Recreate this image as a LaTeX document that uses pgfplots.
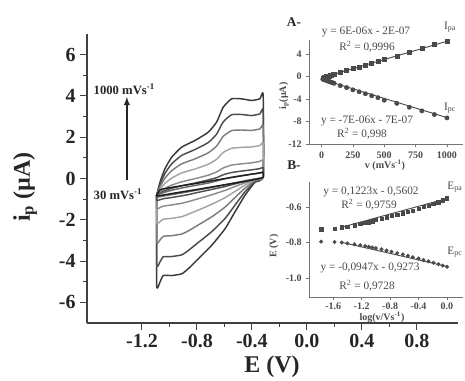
\documentclass[border=0pt]{standalone}
\usepackage{pgfplots}
\pgfplotsset{compat=1.18}
\usepackage{fontspec}
\setmainfont{Liberation Serif}

\definecolor{cvA}{HTML}{3A3A3A}
\definecolor{cvB}{HTML}{4C4C4C}
\definecolor{cvC}{HTML}{7C7C7C}
\definecolor{cvD}{HTML}{A4A4A4}
\definecolor{cvE}{HTML}{8C8C8C}
\definecolor{cvF}{HTML}{505050}
\definecolor{cvG}{HTML}{6A6A6A}
\definecolor{cvH}{HTML}{1E1E1E}
\definecolor{ink}{HTML}{262626}
\definecolor{inset}{HTML}{4A4A4A}

\pgfplotsset{
  insetax/.style={
    anchor=south west, scale only axis, clip=false,
    axis x line*=bottom, axis y line*=left,
    axis line style={line width=0.5pt, draw=black!55},
    tick style={line width=0.5pt, draw=black!55},
    tick align=outside, major tick length=2pt,
    ticklabel style={font=\fontsize{7.5}{8}\selectfont\bfseries, text=inset},
    scaled ticks=false,
  },
  cv/.style={line width=1.1pt, smooth, tension=0.3, line join=round},
}

\begin{document}
\begin{tikzpicture}
\path[use as bounding box] (0,0) rectangle (348.75pt,285pt);

% main cyclic voltammograms, 30 ... 1000 mV/s
\begin{axis}[
  at={(65.25pt,42.75pt)}, anchor=south west,
  scale only axis, width=278.25pt, height=216.75pt,
  xmin=-1.6, xmax=1.1, ymin=-7, ymax=7,
  axis x line*=bottom, axis y line*=left,
  axis line style={line width=0.8pt, draw=black!75},
  tick style={line width=0.8pt, draw=black!75},
  tick align=outside, major tick length=5pt, minor tick length=3pt,
  xtick={-1.2,-0.8,-0.4,0,0.4,0.8},
  xticklabels={-1.2,-0.8,-0.4,0.0,0.4,0.8},
  ytick={-6,-4,-2,0,2,4,6},
  yticklabels={-6,-4,-2,0,2,4,6},
  minor x tick num=1, minor y tick num=1,
  ticklabel style={font=\fontsize{15}{15}\selectfont\bfseries, text=ink},
  clip=false,
]
\addplot[cvA, cv] coordinates {
(-1.093,-0.82) (-1.069,-0.18) (-1.033,0.47) (-0.984,1.03) (-0.911,1.52) (-0.815,1.84) (-0.718,2.24)
(-0.657,2.73) (-0.609,3.45) (-0.548,3.86) (-0.475,3.86) (-0.402,3.78) (-0.342,3.86) (-0.318,4.05)
(-0.318,0.15) (-0.378,-0.18) (-0.451,-0.82) (-0.524,-1.63) (-0.596,-2.44) (-0.693,-3.24) (-0.790,-3.89)
(-0.863,-4.37) (-0.911,-4.62) (-0.984,-4.70) (-1.045,-4.70) (-1.069,-5.02) (-1.093,-5.18) (-1.093,-0.82)};
\addplot[cvB, cv] coordinates {
(-1.093,-0.82) (-1.069,-0.29) (-1.033,0.24) (-0.984,0.71) (-0.911,1.12) (-0.815,1.40) (-0.718,1.74)
(-0.657,2.15) (-0.609,2.74) (-0.548,3.09) (-0.475,3.10) (-0.402,3.05) (-0.342,3.13) (-0.318,3.29)
(-0.318,0.13) (-0.378,-0.14) (-0.451,-0.65) (-0.524,-1.30) (-0.596,-1.94) (-0.693,-2.58) (-0.790,-3.10)
(-0.863,-3.49) (-0.911,-3.70) (-0.984,-3.78) (-1.045,-3.79) (-1.069,-4.04) (-1.093,-4.17) (-1.093,-0.82)};
\addplot[cvC, cv] coordinates {
(-1.093,-0.81) (-1.069,-0.41) (-1.033,0.01) (-0.984,0.38) (-0.911,0.71) (-0.815,0.95) (-0.718,1.24)
(-0.657,1.57) (-0.609,2.04) (-0.548,2.32) (-0.475,2.35) (-0.402,2.33) (-0.342,2.40) (-0.318,2.53)
(-0.318,0.10) (-0.378,-0.10) (-0.451,-0.47) (-0.524,-0.93) (-0.596,-1.39) (-0.693,-1.86) (-0.790,-2.25)
(-0.863,-2.54) (-0.911,-2.69) (-0.984,-2.77) (-1.045,-2.80) (-1.069,-2.98) (-1.093,-3.08) (-1.093,-0.81)};
\addplot[cvD, cv] coordinates {
(-1.093,-0.81) (-1.069,-0.53) (-1.033,-0.24) (-0.984,0.02) (-0.911,0.27) (-0.815,0.46) (-0.718,0.69)
(-0.657,0.93) (-0.609,1.26) (-0.548,1.46) (-0.475,1.51) (-0.402,1.53) (-0.342,1.60) (-0.318,1.69)
(-0.318,0.08) (-0.378,-0.07) (-0.451,-0.32) (-0.524,-0.63) (-0.596,-0.93) (-0.693,-1.25) (-0.790,-1.53)
(-0.863,-1.73) (-0.911,-1.85) (-0.984,-1.93) (-1.045,-1.97) (-1.069,-2.09) (-1.093,-2.16) (-1.093,-0.81)};
\addplot[cvE, cv] coordinates {
(-1.093,-0.80) (-1.069,-0.65) (-1.033,-0.48) (-0.984,-0.32) (-0.911,-0.16) (-0.815,-0.01) (-0.718,0.16)
(-0.657,0.32) (-0.609,0.51) (-0.548,0.65) (-0.475,0.71) (-0.402,0.76) (-0.342,0.83) (-0.318,0.89)
(-0.318,0.07) (-0.378,-0.04) (-0.451,-0.21) (-0.524,-0.39) (-0.596,-0.58) (-0.693,-0.79) (-0.790,-0.98)
(-0.863,-1.12) (-0.911,-1.20) (-0.984,-1.28) (-1.045,-1.34) (-1.069,-1.41) (-1.093,-1.46) (-1.093,-0.80)};
\addplot[cvF, cv] coordinates {
(-1.093,-0.80) (-1.069,-0.70) (-1.033,-0.59) (-0.984,-0.48) (-0.911,-0.35) (-0.815,-0.22) (-0.718,-0.07)
(-0.657,0.04) (-0.609,0.18) (-0.548,0.29) (-0.475,0.36) (-0.402,0.42) (-0.342,0.48) (-0.318,0.53)
(-0.318,0.06) (-0.378,-0.03) (-0.451,-0.14) (-0.524,-0.26) (-0.596,-0.39) (-0.693,-0.53) (-0.790,-0.67)
(-0.863,-0.78) (-0.911,-0.84) (-0.984,-0.92) (-1.045,-0.98) (-1.069,-1.03) (-1.093,-1.06) (-1.093,-0.80)};
\addplot[cvG, cv] coordinates {
(-1.093,-0.80) (-1.069,-0.74) (-1.033,-0.66) (-0.984,-0.57) (-0.911,-0.46) (-0.815,-0.34) (-0.718,-0.22)
(-0.657,-0.12) (-0.609,-0.03) (-0.548,0.06) (-0.475,0.14) (-0.402,0.21) (-0.342,0.27) (-0.318,0.31)
(-0.318,0.05) (-0.378,-0.02) (-0.451,-0.11) (-0.524,-0.21) (-0.596,-0.31) (-0.693,-0.43) (-0.790,-0.55)
(-0.863,-0.64) (-0.911,-0.70) (-0.984,-0.78) (-1.045,-0.85) (-1.069,-0.88) (-1.093,-0.91) (-1.093,-0.80)};
\addplot[cvH, cv] coordinates {
(-1.093,-0.80) (-1.069,-0.55) (-1.033,-0.49) (-0.984,-0.43) (-0.911,-0.35) (-0.815,-0.25) (-0.718,-0.14)
(-0.657,-0.07) (-0.609,-0.02) (-0.548,0.05) (-0.475,0.13) (-0.402,0.21) (-0.342,0.27) (-0.318,0.30)
(-0.318,0.05) (-0.378,-0.05) (-0.451,-0.14) (-0.524,-0.22) (-0.596,-0.30) (-0.693,-0.41) (-0.790,-0.52)
(-0.863,-0.60) (-0.911,-0.65) (-0.984,-0.73) (-1.045,-0.80) (-1.069,-0.82) (-1.093,-0.85) (-1.093,-0.80)};

\draw[-latex, line width=1.1pt, ink] (axis cs:-1.31,-0.05) -- (axis cs:-1.31,3.95);
\end{axis}

% inset A: peak currents against scan rate
\begin{axis}[insetax,
  at={(231.75pt,177pt)}, width=115.5pt, height=78.3pt,
  xmin=-100, xmax=1128, ymin=-12, ymax=6.6,
  xtick={0,250,500,750,1000}, xticklabels={0,250,500,750,1000},
  ytick={-12,-8,-4,0,4}, yticklabels={-12,-8,-4,0,4},
]
\addplot[inset, line width=0.7pt] coordinates {(0,-0.2) (1000,6.3)};
\addplot[inset, line width=0.7pt] coordinates {(0,-0.45) (1000,-7.3)};
\addplot[only marks, mark=square*, mark size=1.5pt, inset] coordinates {
(10,-0.2) (20,-0.12) (30,-0.05) (40,0.02) (50,0.08) (60,0.15) (70,0.22) (80,0.28) (90,0.35) (100,0.42)
(150,0.78) (200,1.05) (250,1.42) (300,1.72) (350,2.05) (400,2.4) (450,2.72) (500,3.05)
(600,3.7) (700,4.35) (800,5.0) (900,5.7) (1000,6.35)};
\addplot[only marks, mark=*, mark size=1.6pt, inset] coordinates {
(10,-0.45) (20,-0.55) (30,-0.62) (40,-0.7) (50,-0.78) (60,-0.85) (70,-0.95) (80,-1.02) (90,-1.1) (100,-1.18)
(150,-1.6) (200,-1.95) (250,-2.35) (300,-2.7) (350,-3.05) (400,-3.4) (450,-3.75) (500,-4.2)
(600,-4.75) (700,-5.45) (800,-6.1) (900,-6.75) (1000,-7.35)};
\end{axis}

% inset B: peak potentials against log of scan rate
\begin{axis}[insetax,
  at={(231.75pt,62.25pt)}, width=115.5pt, height=86.25pt,
  xmin=-1.94, xmax=0.225, ymin=-1.107, ymax=-0.459,
  xtick={-1.6,-1.2,-0.8,-0.4,0}, xticklabels={-1.6,-1.2,-0.8,-0.4,0.0},
  ytick={-1.0,-0.8,-0.6}, yticklabels={-1.0,-0.8,-0.6},
  xticklabel style={yshift=1pt},
]
\addplot[inset, line width=0.7pt] coordinates {(-1.5,-0.716) (0,-0.552)};
\addplot[inset, line width=0.7pt] coordinates {(-1.5,-0.797) (0,-0.935)};
\addplot[only marks, mark=square*, mark size=1.3pt, inset] coordinates {
(-1.77,-0.725) (-1.58,-0.722) (-1.48,-0.715) (-1.40,-0.710) (-1.30,-0.703) (-1.22,-0.695) (-1.15,-0.690)
(-1.10,-0.685) (-1.05,-0.680) (-1.00,-0.672) (-0.92,-0.665) (-0.85,-0.657) (-0.78,-0.650) (-0.70,-0.643)
(-0.62,-0.635) (-0.55,-0.628) (-0.48,-0.620) (-0.40,-0.610) (-0.33,-0.600) (-0.26,-0.592) (-0.19,-0.583)
(-0.12,-0.572) (-0.06,-0.562) (0.00,-0.550)};
\addplot[only marks, mark=*, mark size=1.3pt, inset] coordinates {
(-1.77,-0.795) (-1.58,-0.797) (-1.48,-0.800) (-1.40,-0.805) (-1.30,-0.810) (-1.22,-0.815) (-1.15,-0.820)
(-1.10,-0.824) (-1.05,-0.828) (-1.00,-0.832) (-0.92,-0.838) (-0.85,-0.845) (-0.78,-0.852) (-0.70,-0.860)
(-0.62,-0.867) (-0.55,-0.875) (-0.48,-0.883) (-0.40,-0.890) (-0.33,-0.898) (-0.26,-0.906) (-0.19,-0.914)
(-0.12,-0.922) (-0.06,-0.930) (0.00,-0.937)};
\end{axis}

% labels, placed in pixel units of the reference
\begin{scope}[x=0.75pt, y=0.75pt, text=ink]
\node[rotate=90, font=\fontsize{18}{18}\selectfont\bfseries] at (25,193) {i\textsubscript{p} (µA)};
\node[font=\fontsize{18}{18}\selectfont\bfseries] at (272,13) {E (V)};
\node[anchor=west, font=\fontsize{9.5}{10}\selectfont\bfseries] at (89,291) {1000 mVs\textsuperscript{-1}};
\node[anchor=west, font=\fontsize{9.5}{10}\selectfont\bfseries] at (89,186) {30 mVs\textsuperscript{-1}};

\node[font=\fontsize{10}{10}\selectfont\bfseries] at (294,358) {A-};
\node[font=\fontsize{10}{10}\selectfont\bfseries] at (294,215) {B-};

\begin{scope}[text=inset, font=\fontsize{8.5}{9}\selectfont]
\node at (366,348) {y = 6E-06x - 2E-07};
\node at (367,333) {R\textsuperscript{2} = 0,9996};
\node at (367,259) {y = -7E-06x - 7E-07};
\node at (362,246) {R\textsuperscript{2} = 0,998};
\node at (450,353) {I\textsubscript{pa}};
\node at (450,272) {I\textsubscript{pc}};
\node at (371,188) {y = 0,1223x - 0,5602};
\node at (369,175) {R\textsuperscript{2} = 0,9759};
\node at (370,112) {y = -0,0947x - 0,9273};
\node at (367,94) {R\textsuperscript{2} = 0,9728};
\node at (455,193) {E\textsubscript{pa}};
\node at (455,128) {E\textsubscript{pc}};
\end{scope}

\begin{scope}[text=inset, font=\fontsize{7.5}{8}\selectfont\bfseries]
\node at (385,215) {v (mVs\textsuperscript{-1})};
\node[rotate=90] at (284,284) {i\textsubscript{p}(µA)};
\node at (382,63) {log(v/Vs\textsuperscript{-1})};
\node[rotate=90] at (274,134) {E (V)};
\end{scope}
\end{scope}
\end{tikzpicture}
\end{document}
